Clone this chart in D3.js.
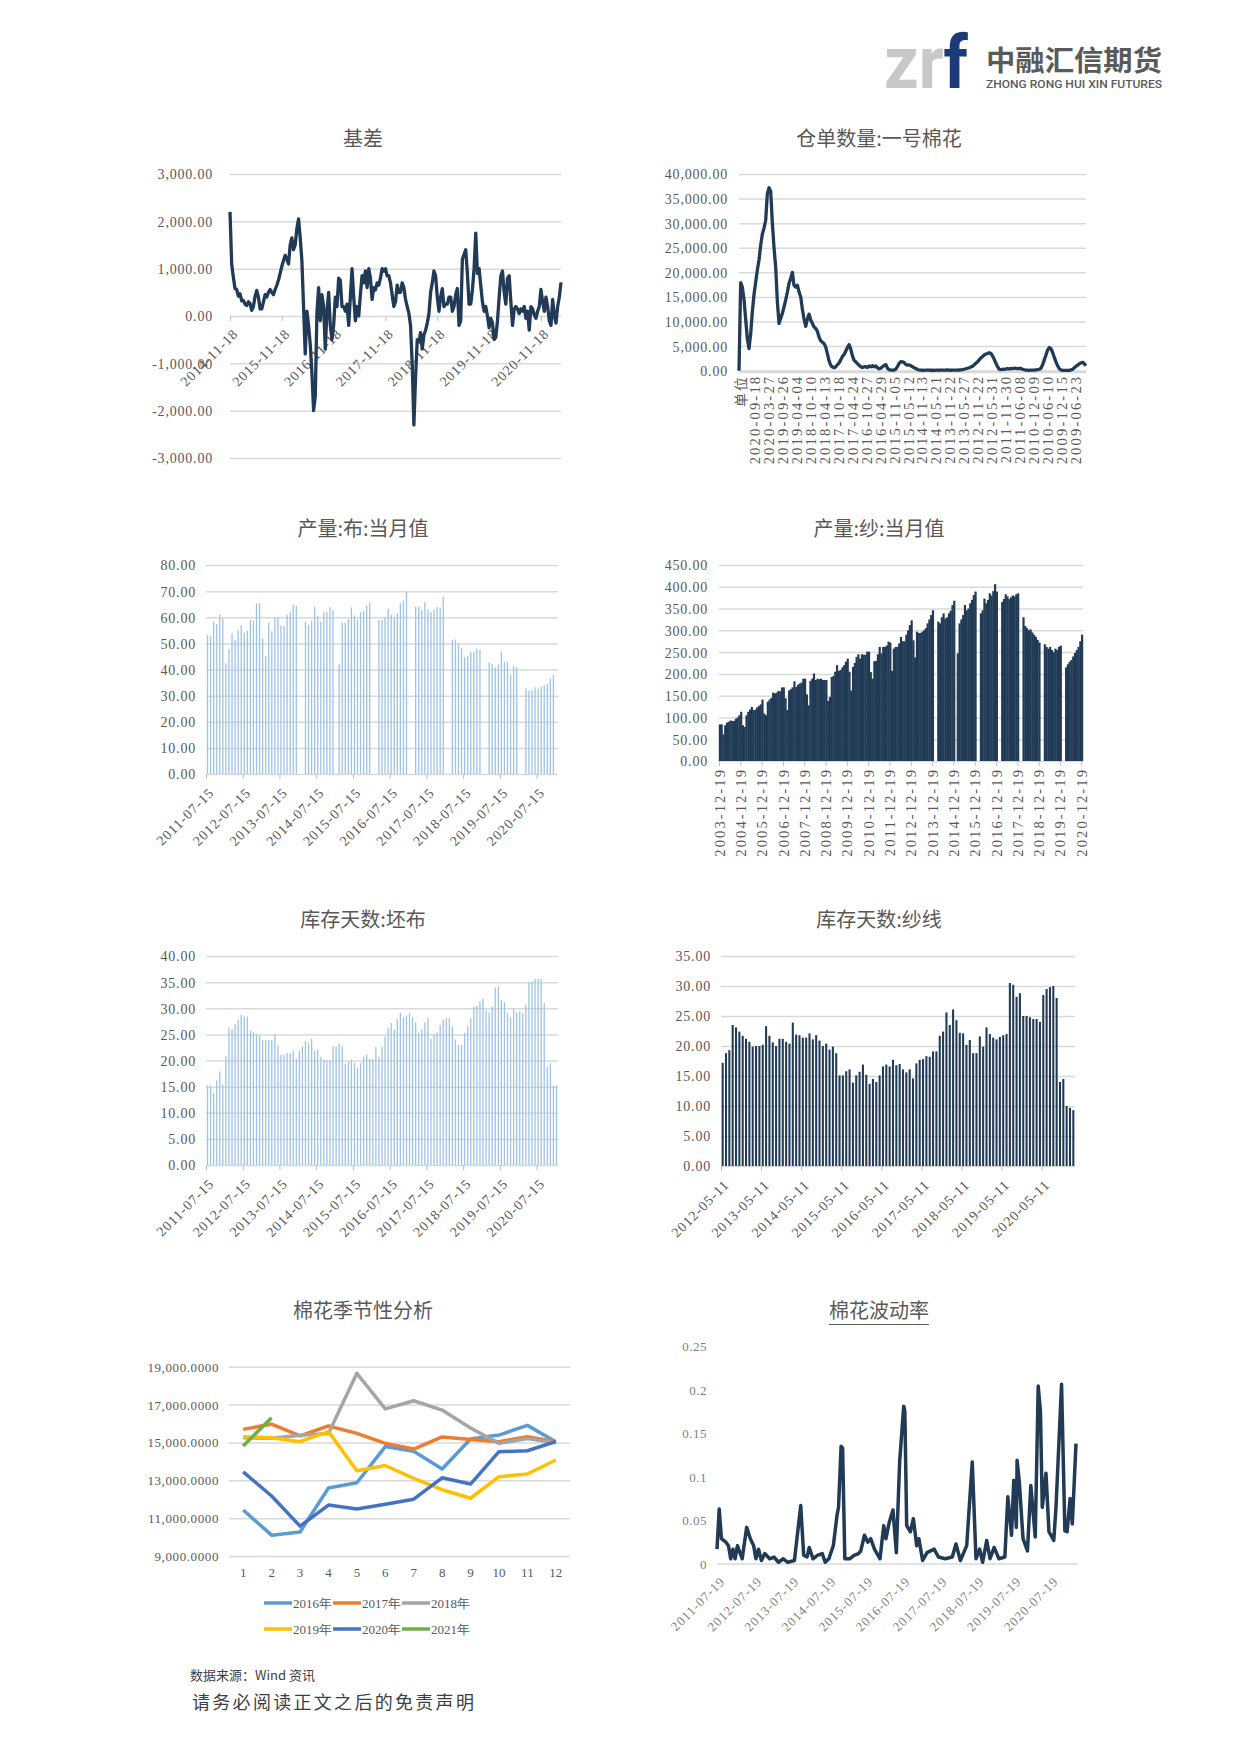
<!DOCTYPE html>
<html><head><meta charset="utf-8">
<script src="https://cdn.jsdelivr.net/npm/d3@7"></script>
<style>body{margin:0;background:#fff}svg{display:block}</style>
</head><body>
<svg id="page" width="1240" height="1753"></svg>
<script>
// ================= DATA =================
// Chart 1: 基差 (sampled series, start 2014-11-18)
const basisTickLabels = ["2014-11-18","2015-11-18","2016-11-18","2017-11-18","2018-11-18","2019-11-18","2020-11-18"];
const basisYTicks = [-3000,-2000,-1000,0,1000,2000,3000];
const basisStartYear = 2014.88;
const basisStepYears = 5/155;
const basisValues = [
 2200,1100,820,580,560,420,470,320,330,250,
 220,300,260,120,200,415,540,400,150,150,
 300,450,400,500,560,500,450,560,650,760,
 900,1050,1170,1280,1200,1100,1500,1650,1400,1500,
 1850,2050,1650,1170,200,-800,100,-200,-600,-1200,
 -2000,-1700,70,600,-100,450,200,-700,100,500,
 -200,-500,-200,400,200,800,750,200,200,100,
 250,-200,400,1000,400,-100,200,0,450,850,
 700,950,600,1000,800,350,600,550,700,650,
 800,1000,950,1000,850,850,700,450,200,300,
 650,500,500,700,600,350,200,60,-200,-1035,
 -2300,-1300,-500,-550,-350,-700,-400,-300,-150,50,
 500,700,950,850,400,100,400,580,200,250,
 250,400,400,100,200,450,580,-200,-100,1200,
 1300,1400,900,250,250,550,1000,1750,900,1000,
 650,300,100,200,0,-250,-50,-150,-500,-450,
 -100,400,850,950,500,250,800,850,300,-200,
 150,200,150,50,150,100,200,-50,100,-300,
 200,150,20,-50,100,200,560,300,100,400,
 200,-100,-200,350,0,-150,200,400,710
];

// Chart 2: 仓单数量:一号棉花
const receiptLabels = ["单位","2020-09-18","2020-03-27","2019-09-26","2019-04-04","2018-10-10","2018-04-13","2017-10-18","2017-04-24","2016-10-27","2016-04-29","2015-11-05","2015-05-12","2014-11-13","2014-05-21","2013-11-22","2013-05-27","2012-11-22","2012-05-31","2011-11-30","2011-06-08","2010-12-09","2010-06-10","2009-12-15","2009-06-23"];
const receiptYTicks = [0,5000,10000,15000,20000,25000,30000,35000,40000];
const receiptValues = [
 0,17900,17000,14500,10500,6500,4500,7500,12000,15500,
 18000,20500,22500,25500,27800,29000,30600,36000,37200,36500,
 30000,25000,21000,14000,9600,10650,11660,13000,14400,16000,
 17800,18800,20000,17300,17000,17400,16000,15000,12500,10500,
 9000,10500,11500,10300,9600,8900,8600,8000,6800,6100,
 5800,5500,4800,3400,2000,1100,750,600,800,1200,
 1600,2200,2900,3300,4000,4700,5300,4400,3000,2100,
 1800,1450,1100,800,650,800,800,650,950,800,
 1000,800,950,600,400,500,800,1050,1250,500,
 200,130,130,130,300,850,1500,1850,1800,1650,
 1250,1150,1200,1000,800,600,450,250,130,100,
 90,80,100,120,100,90,100,80,100,100,
 90,100,110,100,100,150,100,90,100,100,
 120,130,140,150,200,300,400,500,600,750,
 900,1200,1500,1800,2200,2600,2900,3200,3400,3500,
 3650,3500,3000,2300,1500,800,300,200,300,250,
 350,400,350,450,400,500,450,400,480,450,
 300,200,100,100,80,100,120,100,150,200,
 300,500,1200,2200,3200,4200,4700,4500,3700,2700,
 1800,1000,400,150,80,60,50,60,80,150,
 300,600,900,1100,1400,1600,1700,1400,1000
];

// Chart 3: 产量:布:当月值 (monthly from 2011-07)
const clothTickLabels = ["2011-07-15","2012-07-15","2013-07-15","2014-07-15","2015-07-15","2016-07-15","2017-07-15","2018-07-15","2019-07-15","2020-07-15"];
const clothYTicks = [0,10,20,30,40,50,60,70,80];
const clothValues = [
 53.2,52.8,58.2,57.4,61.0,59.5,
 42.4,47.9,53.8,51.3,55.1,57.0,54.1,54.9,59.0,58.6,65.3,65.3,
 51.9,45.2,57.9,54.7,59.6,60.0,56.8,56.7,61.0,62.0,65.0,64.3,
 null,null,58.3,57.0,58.7,64.0,60.5,58.3,61.9,61.9,63.8,62.8,
 null,42.0,58.0,58.0,59.2,63.8,60.7,59.2,61.9,62.4,64.4,65.7,
 null,null,59.0,59.0,60.0,63.3,61.0,60.2,61.6,65.3,66.4,69.8,
 null,null,64.0,64.0,62.8,65.8,63.0,62.0,63.0,63.9,63.7,67.9,
 null,null,51.3,51.5,49.8,48.2,44.7,45.3,46.8,46.8,48.0,47.5,
 null,null,42.7,42.1,40.8,41.9,46.8,43.0,43.0,37.9,41.3,40.8,
 null,null,32.7,31.9,32.2,33.2,32.7,33.5,34.0,34.5,36.5,38.0,
 null
];

// Chart 4: 产量:纱:当月值 (monthly from 2003-12)
const yarnTickLabels = ["2003-12-19","2004-12-19","2005-12-19","2006-12-19","2007-12-19","2008-12-19","2009-12-19","2010-12-19","2011-12-19","2012-12-19","2013-12-19","2014-12-19","2015-12-19","2016-12-19","2017-12-19","2018-12-19","2019-12-19","2020-12-19"];
const yarnYTicks = [0,50,100,150,200,250,300,350,400,450];
const yarnValues = [
 84,
 84,61,82,88,90,93,92,92,97,100,105,113,
 82,78,105,113,118,124,117,118,123,126,130,141,
 109,105,136,141,145,157,155,157,161,160,169,169,
 144,117,162,165,169,183,170,175,178,180,189,189,
 153,128,184,189,201,186,189,188,189,186,186,186,
 138,147,193,195,205,220,207,209,215,220,228,235,
 205,162,216,225,239,245,235,245,244,244,251,251,
 204,189,229,230,245,262,247,262,262,265,274,272,
 207,258,262,262,270,285,275,275,290,300,312,323,
 277,238,297,294,294,297,300,305,316,325,335,346,
 null,null,320,316,330,339,327,330,339,345,358,368,
 null,247,316,325,335,358,346,350,362,370,381,389,
 null,null,339,346,373,362,370,385,380,390,406,389,
 null,null,365,372,383,378,372,376,380,378,383,385,
 null,null,330,310,305,300,302,295,290,285,278,272,
 null,null,268,262,258,262,255,250,258,255,262,265,
 null,null,215,222,228,232,240,248,255,262,275,290
];

// Chart 5: 库存天数:坯布 (monthly from 2011-07)
const greigeTickLabels = clothTickLabels;
const greigeYTicks = [0,5,10,15,20,25,30,35,40];
const greigeValues = [
 15.2,15.2,13.8,16.2,17.9,15.4,20.9,26.3,26.0,27.0,
 27.8,28.7,28.4,28.4,25.7,25.4,25.1,24.8,23.9,23.9,
 23.9,23.9,25.1,22.8,21.1,21.1,21.4,21.4,21.8,20.3,
 21.8,22.7,23.7,23.3,24.1,21.8,22.1,20.7,20.2,20.0,
 20.0,22.7,22.7,23.3,22.7,19.4,19.7,20.2,19.5,18.6,
 19.5,20.7,21.1,20.3,20.3,22.6,20.7,22.6,24.6,26.2,
 27.2,25.9,27.9,29.1,28.3,28.6,29.1,28.3,27.3,25.3,
 26.0,27.3,28.1,24.1,25.1,25.4,26.8,27.8,28.1,28.1,
 26.5,24.0,23.0,23.0,25.3,26.6,28.1,30.3,30.5,31.3,
 31.8,29.6,29.2,30.3,34.0,34.2,31.6,31.2,29.1,28.3,
 29.9,29.2,29.4,29.1,30.7,34.9,35.1,35.6,35.6,
 35.6,31.0,18.8,19.5,15.2,15.2
];

// Chart 6: 库存天数:纱线 (monthly from 2012-05)
const yarnDaysTickLabels = ["2012-05-11","2013-05-11","2014-05-11","2015-05-11","2016-05-11","2017-05-11","2018-05-11","2019-05-11","2020-05-11"];
const yarnDaysYTicks = [0,5,10,15,20,25,30,35];
const yarnDaysValues = [
 17.2,18.8,19.3,23.5,23.1,22.4,21.7,21.2,20.7,19.9,
 20.0,20.0,20.2,23.3,21.7,20.6,20.0,21.2,21.2,20.7,
 20.4,23.9,21.9,21.8,21.4,21.4,22.1,21.1,21.8,20.9,
 20.0,20.4,19.4,19.9,18.8,15.1,15.1,15.8,16.1,13.9,
 15.1,15.7,16.9,15.2,13.7,14.5,14.0,15.1,16.6,16.9,
 16.6,17.7,16.8,17.0,16.1,15.6,16.1,14.6,17.1,17.7,
 17.8,18.3,18.2,19.1,19.1,21.7,22.4,25.6,23.5,26.1,
 24.3,22.2,22.1,20.2,21.0,18.8,18.8,21.6,19.9,23.1,
 22.0,21.4,21.1,
 21.5,21.8,22.0,30.5,30.2,28.2,28.8,25.0,25.0,24.8,
 24.5,24.5,24.0,28.5,29.5,29.8,30.0,28.0,14.0,14.5,
 10.0,9.7,9.3
];

// Chart 7: 棉花季节性分析
const seasonMonths = ["1","2","3","4","5","6","7","8","9","10","11","12"];
const seasonYTicks = [9000,11000,13000,15000,17000,19000];
const seasonNames = ["2016年","2017年","2018年","2019年","2020年","2021年"];
const season2016 = [11430,10100,10270,12590,12870,14780,14530,13600,15180,15390,15900,15040];
const season2017 = [15690,15970,15340,15870,15480,14950,14650,15290,15150,15040,15300,15040];
const season2018 = [15250,15220,15380,15470,18650,16770,17200,16710,15760,14950,15200,14980];
const season2019 = [15300,15250,15040,15570,13500,13780,13100,12500,12050,13190,13330,14070];
const season2020 = [13440,12170,10580,11690,11480,11730,12000,13130,12800,14510,14560,15040];
const season2021 = [14810,16300];

// Chart 8: 棉花波动率 (decimal year, value)
const volTickLabels = ["2011-07-19","2012-07-19","2013-07-19","2014-07-19","2015-07-19","2016-07-19","2017-07-19","2018-07-19","2019-07-19","2020-07-19"];
const volYTicks = [0,0.05,0.1,0.15,0.2,0.25];
const volYears = [2011.55,2011.61,2011.67,2011.79,2011.86,2011.92,2011.98,2012.04,2012.10,2012.23,2012.35,2012.45,2012.54,2012.60,2012.67,2012.75,2012.84,2012.97,2013.09,2013.21,2013.34,2013.46,2013.64,2013.81,2013.89,2013.98,2014.04,2014.14,2014.26,2014.39,2014.47,2014.57,2014.69,2014.79,2014.83,2014.90,2014.94,2015.00,2015.13,2015.25,2015.37,2015.43,2015.53,2015.62,2015.70,2015.80,2015.95,2016.05,2016.11,2016.20,2016.30,2016.39,2016.48,2016.54,2016.59,2016.62,2016.67,2016.77,2016.85,2016.94,2017.00,2017.10,2017.22,2017.41,2017.53,2017.71,2017.90,2018.00,2018.12,2018.29,2018.44,2018.54,2018.64,2018.72,2018.83,2018.92,2019.03,2019.16,2019.32,2019.40,2019.50,2019.56,2019.63,2019.65,2019.71,2019.81,2019.93,2020.02,2020.14,2020.22,2020.28,2020.33,2020.43,2020.51,2020.64,2020.70,2020.85,2020.94,2021.00,2021.08,2021.14,2021.24];
const volValues = [0.017,0.063,0.029,0.025,0.021,0.006,0.017,0.006,0.021,0.006,0.042,0.029,0.021,0.006,0.017,0.004,0.012,0.006,0.008,0.002,0.006,0.002,0.004,0.067,0.010,0.008,0.019,0.006,0.010,0.012,0.002,0.006,0.021,0.056,0.065,0.135,0.133,0.006,0.006,0.010,0.012,0.015,0.033,0.025,0.029,0.017,0.006,0.044,0.029,0.048,0.062,0.013,0.117,0.152,0.181,0.175,0.044,0.037,0.052,0.021,0.029,0.004,0.013,0.017,0.008,0.006,0.008,0.023,0.004,0.021,0.117,0.006,0.017,0.002,0.027,0.006,0.019,0.006,0.008,0.077,0.033,0.096,0.042,0.119,0.094,0.029,0.015,0.090,0.031,0.204,0.175,0.065,0.104,0.037,0.027,0.065,0.206,0.038,0.037,0.075,0.046,0.138];

// ================= STYLE =================
const NUM = "'Liberation Serif','DejaVu Serif',serif";
const CJK = "'Noto Sans CJK SC','Noto Sans CJK JP',sans-serif";
const GRID = "#d9d9d9", LABEL = "#595959", NAVY = "#213a55", LIGHT = "#9dc3e6";
const loc = d3.formatLocale({decimal:".",thousands:",",grouping:[3],currency:["",""],minus:"-"});
const fmt2 = loc.format(",.2f"), fmt4 = loc.format(",.4f"), fmtVol = loc.format(".2~f");

const svg = d3.select("#page");

function title(cx, cy, t, underline) {
  const el = svg.append("text").attr("x", cx).attr("y", cy).attr("text-anchor", "middle")
    .attr("dominant-baseline", "central").attr("font-family", CJK).attr("font-size", 20)
    .attr("fill", LABEL).text(t);
  if (underline) {
    const b = el.node().getBBox();
    svg.append("line").attr("x1", b.x).attr("x2", b.x + b.width).attr("y1", b.y + b.height + 1).attr("y2", b.y + b.height + 1)
      .attr("stroke", LABEL).attr("stroke-width", 1);
  }
}
function yGrid(x0, x1, y, ticks, sw) {
  const g = svg.append("g").attr("transform", `translate(${x0},0)`)
    .call(d3.axisLeft(y).tickValues(ticks).tickSize(-(x1 - x0)).tickFormat(""));
  g.select(".domain").remove();
  g.selectAll(".tick line").attr("stroke", GRID).attr("stroke-width", sw || 1.5);
  return g;
}
function yLabels(xr, y, ticks, fmt, size, color, ls) {
  const g = svg.append("g").attr("transform", `translate(${xr},0)`)
    .call(d3.axisLeft(y).tickValues(ticks).tickSize(0).tickPadding(0).tickFormat(fmt));
  g.select(".domain").remove();
  g.selectAll("text").attr("font-family", NUM).attr("font-size", size || 14)
    .attr("fill", color || LABEL).attr("letter-spacing", ls == null ? 0.8 : ls).attr("dy", "0.35em");
  return g;
}
function xAxisRot(x, yPos, vals, labels, opts) {
  const o = Object.assign({tick: 5, dx: 5, dy: 15, angle: -45, size: 14, ls: 1, color: LABEL, tickColor: "#bfbfbf"}, opts || {});
  const g = svg.append("g").attr("transform", `translate(0,${yPos})`)
    .call(d3.axisBottom(x).tickValues(vals).tickSize(o.tick).tickFormat((d, i) => labels[i]));
  g.select(".domain").remove();
  g.selectAll(".tick line").attr("stroke", o.tickColor).attr("stroke-width", 1);
  g.selectAll("text").attr("x", 0).attr("y", 0).attr("dy", "0.35em").attr("text-anchor", "end")
    .attr("transform", `translate(${o.dx},${o.dy}) rotate(${o.angle})`)
    .attr("font-family", NUM).attr("font-size", o.size).attr("fill", o.color).attr("letter-spacing", o.ls);
  return g;
}

// ================= LOGO =================
{
  const g = svg.append("g");
  const t = g.append("text").attr("transform", "translate(884,88) scale(1,1.25)")
    .attr("font-family", "Roboto, 'DejaVu Sans', sans-serif")
    .attr("font-weight", 700).attr("font-size", 60)
    .attr("textLength", 84).attr("lengthAdjust", "spacingAndGlyphs");
  t.append("tspan").attr("fill", "#c8c8c8").text("zr");
  t.append("tspan").attr("fill", "#1c3a7a").text("f");
  g.append("text").attr("x", 986).attr("y", 71).attr("font-family", CJK).attr("font-weight", 700)
    .attr("font-size", 28).attr("fill", "#5a5a5a").attr("textLength", 176).attr("lengthAdjust", "spacingAndGlyphs").text("中融汇信期货");
  g.append("text").attr("x", 986).attr("y", 88).attr("font-family", "Roboto, sans-serif").attr("font-weight", 500)
    .attr("font-size", 10).attr("fill", "#5a5a5a").attr("textLength", 176).attr("lengthAdjust", "spacingAndGlyphs").text("ZHONG RONG HUI XIN FUTURES");
}

// ================= CHART 1: 基差 =================
{
  title(363, 137, "基差");
  const x = d3.scaleLinear().domain([basisStartYear, basisStartYear + (basisValues.length - 1) * basisStepYears]).range([230, 561]);
  const y = d3.scaleLinear().domain([-3000, 3000]).range([458, 174]);
  yGrid(230, 561, y, basisYTicks);
  yLabels(213, y, basisYTicks, fmt2);
  xAxisRot(x, y(0), basisTickLabels.map((d, i) => basisStartYear + i), basisTickLabels, {dx: 5, dy: 15});
  svg.append("path").datum(basisValues).attr("fill", "none").attr("stroke", NAVY).attr("stroke-width", 3.3)
    .attr("stroke-linejoin", "round")
    .attr("d", d3.line().x((d, i) => x(basisStartYear + i * basisStepYears)).y(d => y(d)));
}

// ================= CHART 2: 仓单数量 =================
{
  title(879, 137, "仓单数量:一号棉花");
  const x = d3.scaleLinear().domain([0, receiptValues.length - 1]).range([739, 1086]);
  const y = d3.scaleLinear().domain([0, 40000]).range([370.7, 174]);
  yGrid(739, 1086, y, receiptYTicks.filter(d => d > 0));
  svg.append("line").attr("x1", 739).attr("x2", 1086).attr("y1", y(0) + 1).attr("y2", y(0) + 1).attr("stroke", GRID).attr("stroke-width", 3);
  yLabels(728, y, receiptYTicks, fmt2);
  const lx = d3.scalePoint().domain(receiptLabels).range([741, 1075]);
  const g = svg.append("g").attr("transform", `translate(0,${y(0) + 4})`)
    .call(d3.axisBottom(lx).tickSize(0));
  g.select(".domain").remove();
  g.selectAll("text").attr("x", 0).attr("y", 0).attr("dy", "0.35em").attr("text-anchor", "end")
    .attr("transform", "rotate(-90)")
    .attr("font-family", (d) => d === "单位" ? CJK : NUM).attr("font-size", d => d === "单位" ? 14 : 14.5).attr("fill", LABEL).attr("letter-spacing", 2.2);
  svg.append("path").datum(receiptValues).attr("fill", "none").attr("stroke", NAVY).attr("stroke-width", 3.3)
    .attr("stroke-linejoin", "round")
    .attr("d", d3.line().x((d, i) => x(i)).y(d => y(d)));
}

// monthly bar chart helper
function monthlyBars(vals, x0, x1, y, color, widthFrac, minW) {
  const xb = d3.scaleBand().domain(d3.range(vals.length)).range([x0, x1]).padding(0);
  const bw = Math.max(xb.bandwidth() * widthFrac, minW || 0);
  svg.append("g").selectAll("rect").data(vals.map((v, i) => ({v, i})).filter(d => d.v != null)).join("rect")
    .attr("x", d => xb(d.i) + (xb.bandwidth() - bw) / 2).attr("width", bw)
    .attr("y", d => y(d.v)).attr("height", d => y(0) - y(d.v)).attr("fill", color);
  return xb;
}

// ================= CHART 3: 产量:布 =================
{
  title(363, 527, "产量:布:当月值");
  const y = d3.scaleLinear().domain([0, 80]).range([774, 565]);
  yGrid(206, 558, y, clothYTicks);
  yLabels(196, y, clothYTicks, fmt2);
  monthlyBars(clothValues, 206, 558, y, LIGHT, 0.42, 1.2);
  const xi = d3.scaleLinear().domain([0, clothValues.length]).range([206, 558]);
  xAxisRot(xi, y(0), clothTickLabels.map((d, i) => i * 12), clothTickLabels, {dx: 5, dy: 16});
}

// ================= CHART 4: 产量:纱 =================
{
  title(879, 527, "产量:纱:当月值");
  const y = d3.scaleLinear().domain([0, 450]).range([761, 565]);
  yGrid(719, 1083, y, yarnYTicks);
  yLabels(708, y, yarnYTicks, fmt2);
  const xb = d3.scaleBand().domain(d3.range(yarnValues.length)).range([719, 1083]).padding(0);
  svg.append("g").selectAll("rect").data(yarnValues.map((v, i) => ({v, i})).filter(d => d.v != null)).join("rect")
    .attr("x", d => xb(d.i) - 0.2).attr("width", xb.bandwidth() + 0.4)
    .attr("y", d => y(d.v)).attr("height", d => y(0) - y(d.v)).attr("fill", NAVY);
  const xi = d3.scaleLinear().domain([0, yarnValues.length]).range([719, 1083]);
  xAxisRot(xi, y(0), yarnTickLabels.map((d, i) => i * 12), yarnTickLabels, {dx: 0, dy: 7, angle: -90, ls: 2.1, size: 14.5});
}

// ================= CHART 5: 库存天数:坯布 =================
{
  title(363, 918, "库存天数:坯布");
  const y = d3.scaleLinear().domain([0, 40]).range([1165, 956]);
  yGrid(206, 558, y, greigeYTicks);
  yLabels(196, y, greigeYTicks, fmt2);
  monthlyBars(greigeValues, 206, 558, y, LIGHT, 0.42, 1.2);
  const xi = d3.scaleLinear().domain([0, greigeValues.length]).range([206, 558]);
  xAxisRot(xi, y(0), greigeTickLabels.map((d, i) => i * 12), greigeTickLabels, {dx: 5, dy: 16});
}

// ================= CHART 6: 库存天数:纱线 =================
{
  title(879, 918, "库存天数:纱线");
  const y = d3.scaleLinear().domain([0, 35]).range([1166, 956]);
  yGrid(721, 1075, y, yarnDaysYTicks);
  yLabels(711, y, yarnDaysYTicks, fmt2);
  monthlyBars(yarnDaysValues, 721, 1075, y, NAVY, 0.62, 1.5);
  const xi = d3.scaleLinear().domain([0, yarnDaysValues.length]).range([721, 1075]);
  xAxisRot(xi, y(0), yarnDaysTickLabels.map((d, i) => i * 12), yarnDaysTickLabels, {dx: 5, dy: 16});
}

// ================= CHART 7: 棉花季节性分析 =================
{
  title(363, 1309, "棉花季节性分析");
  const x = d3.scaleBand().domain(seasonMonths).range([229, 570]);
  const y = d3.scaleLinear().domain([9000, 19000]).range([1556, 1366.7]);
  yGrid(229, 570, y, seasonYTicks);
  yLabels(219, y, seasonYTicks, fmt4, 13, LABEL, 0.6);
  const gx = svg.append("g").attr("transform", `translate(0,${1572})`).call(d3.axisBottom(x).tickSize(0).tickPadding(0));
  gx.select(".domain").remove();
  gx.selectAll("text").attr("dy", "0.35em").attr("font-family", NUM).attr("font-size", 13).attr("fill", LABEL);
  const series = [season2016, season2017, season2018, season2019, season2020, season2021];
  const colors = ["#5b9bd5", "#ed7d31", "#a5a5a5", "#ffc000", "#4472c4", "#70ad47"];
  const line = d3.line().x((d, i) => x(seasonMonths[i]) + x.bandwidth() / 2).y(d => y(d));
  series.forEach((s, k) => {
    svg.append("path").datum(s).attr("fill", "none").attr("stroke", colors[k]).attr("stroke-width", 3.5)
      .attr("stroke-linejoin", "round").attr("d", line);
  });
  // legend
  const leg = svg.append("g");
  seasonNames.forEach((n, k) => {
    const col = k % 3, row = Math.floor(k / 3);
    const lx = 264 + col * 69, ly = 1603 + row * 26;
    leg.append("line").attr("x1", lx).attr("x2", lx + 28).attr("y1", ly).attr("y2", ly)
      .attr("stroke", colors[k]).attr("stroke-width", 3.5);
    leg.append("text").attr("x", lx + 29).attr("y", ly).attr("dy", "0.35em")
      .attr("font-family", NUM).attr("font-size", 13).attr("fill", LABEL).text(n);
  });
}

// ================= CHART 8: 棉花波动率 =================
{
  title(879, 1309, "棉花波动率", true);
  const x = d3.scaleLinear().domain([2011.55, 2021.24]).range([717, 1076]);
  const y = d3.scaleLinear().domain([0, 0.25]).range([1564, 1346]);
  svg.append("line").attr("x1", 717).attr("x2", 1078).attr("y1", y(0)).attr("y2", y(0)).attr("stroke", GRID).attr("stroke-width", 1.5);
  yLabels(707, y, volYTicks, fmtVol, 13, "#7f7f7f", 0.5);
  xAxisRot(x, y(0), volTickLabels.map((d, i) => 2011.55 + i), volTickLabels, {tick: 0, dx: 5, dy: 15, size: 13, color: "#7f7f7f"});
  svg.append("path").datum(volValues).attr("fill", "none").attr("stroke", NAVY).attr("stroke-width", 3.5)
    .attr("stroke-linejoin", "round")
    .attr("d", d3.line().x((d, i) => x(volYears[i])).y(d => y(d)));
}

// ================= FOOTER =================
svg.append("text").attr("x", 190).attr("y", 1675).attr("dy", "0.35em").attr("font-family", CJK)
  .attr("font-size", 13).attr("fill", "#404040").text("数据来源：Wind 资讯");
svg.append("text").attr("x", 192).attr("y", 1703).attr("dy", "0.35em").attr("font-family", CJK)
  .attr("font-size", 18).attr("fill", "#404040").attr("letter-spacing", 2.3).text("请务必阅读正文之后的免责声明");
</script>
</body></html>
